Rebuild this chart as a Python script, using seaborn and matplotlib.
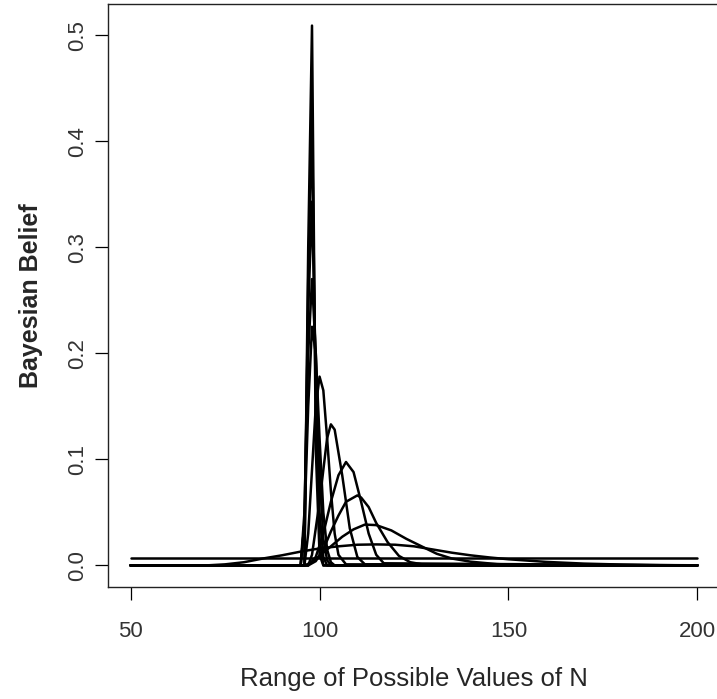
import numpy as np
import pandas as pd
import matplotlib
matplotlib.use("Agg")
import matplotlib.pyplot as plt
import seaborn as sns

# ---- data (N values, belief values) ----
# flat prior over 50..200
prior_n = [50, 200]
prior_b = [0.0066, 0.0066]

# broad posterior after the first sample
post1_n = [50, 70, 75, 80, 85, 90, 95, 100, 105, 110, 115, 120, 125, 130, 135, 140, 145, 150, 160, 170, 180, 190, 200]
post1_b = [0, 0, 0.001, 0.003, 0.0065, 0.0095, 0.013, 0.016, 0.018, 0.0195, 0.0198, 0.0195, 0.018, 0.015, 0.012,
           0.0095, 0.0075, 0.0058, 0.0033, 0.0017, 0.0008, 0.0003, 0.0001]

post2_n = [50, 96, 98, 100, 103, 106, 109, 112, 115, 119, 123, 127, 131, 135, 140, 147, 155, 200]
post2_b = [0, 0, 0.003, 0.009, 0.018, 0.027, 0.034, 0.0385, 0.038, 0.033, 0.025, 0.018, 0.011, 0.0065, 0.0035,
           0.0012, 0.0003, 0]

post3_n = [50, 97, 99, 101, 103, 105, 107, 110, 111, 113, 115, 118, 121, 124, 128, 200]
post3_b = [0, 0, 0.004, 0.015, 0.032, 0.047, 0.060, 0.066, 0.064, 0.055, 0.040, 0.022, 0.009, 0.003, 0.0005, 0]

post4_n = [50, 97, 99, 101, 103, 105, 107, 109, 111, 113, 115, 117, 200]
post4_b = [0, 0, 0.008, 0.03, 0.06, 0.085, 0.0975, 0.088, 0.06, 0.03, 0.01, 0.002, 0]

post5_n = [50, 97, 98, 100, 102, 103, 104, 106, 108, 110, 112, 200]
post5_b = [0, 0, 0.01, 0.06, 0.12, 0.133, 0.128, 0.085, 0.035, 0.008, 0.001, 0]

post6_n = [50, 96, 97, 98, 99, 100, 101, 102, 103, 104, 105, 107, 200]
post6_b = [0, 0, 0.03, 0.09, 0.15, 0.178, 0.165, 0.12, 0.07, 0.03, 0.01, 0.001, 0]

post7_n = [50, 95, 96, 97, 98, 99, 100, 101, 102, 103, 104, 200]
post7_b = [0, 0, 0.04, 0.15, 0.225, 0.2, 0.12, 0.05, 0.015, 0.003, 0, 0]

post8_n = [50, 95, 96, 97, 98, 99, 100, 101, 102, 103, 200]
post8_b = [0, 0, 0.05, 0.2, 0.27, 0.2, 0.09, 0.025, 0.005, 0, 0]

post9_n = [50, 95, 96, 97, 98, 99, 100, 101, 102, 200]
post9_b = [0, 0, 0.04, 0.24, 0.343, 0.18, 0.05, 0.008, 0, 0]

post10_n = [50, 96, 97, 98, 99, 100, 101, 200]
post10_b = [0, 0, 0.27, 0.42, 0.15, 0.025, 0, 0]

post11_n = [50, 96, 97, 98, 99, 100, 101, 200]
post11_b = [0, 0, 0.3, 0.509, 0.11, 0.01, 0, 0]

curves = [
    ("prior", prior_n, prior_b),
    ("post1", post1_n, post1_b),
    ("post2", post2_n, post2_b),
    ("post3", post3_n, post3_b),
    ("post4", post4_n, post4_b),
    ("post5", post5_n, post5_b),
    ("post6", post6_n, post6_b),
    ("post7", post7_n, post7_b),
    ("post8", post8_n, post8_b),
    ("post9", post9_n, post9_b),
    ("post10", post10_n, post10_b),
    ("post11", post11_n, post11_b),
]

df = pd.concat([pd.DataFrame({"N": n, "belief": b, "curve": name}) for name, n, b in curves],
               ignore_index=True)

sns.set_style("ticks")
plt.rcParams["font.family"] = ["Liberation Sans", "DejaVu Sans"]

fig = plt.figure(figsize=(7.17, 6.99), dpi=100)
ax = fig.add_axes([108 / 717, 112 / 699, 612 / 717, 583 / 699])

sns.lineplot(data=df, x="N", y="belief", units="curve", estimator=None, sort=False,
             color="black", linewidth=1.8, legend=False, ax=ax)

# R-style 4% padding around the data
ax.margins(x=0.04, y=0.04)

ax.set_xticks([50, 100, 150, 200])
ax.set_yticks([0.0, 0.1, 0.2, 0.3, 0.4, 0.5])
ax.set_yticklabels(["0.0", "0.1", "0.2", "0.3", "0.4", "0.5"])
ax.tick_params(axis="both", direction="out", length=9.5, width=0.9, colors="black", labelsize=16)
ax.tick_params(axis="x", pad=15)
ax.tick_params(axis="y", pad=5)
for lab in ax.get_yticklabels():
    lab.set_rotation(90)
    lab.set_va("center")
    lab.set_color("#333333")
for lab in ax.get_xticklabels():
    lab.set_color("#333333")

for side in ["left", "right", "top", "bottom"]:
    ax.spines[side].set_visible(True)
    ax.spines[side].set_linewidth(1.0)
    ax.spines[side].set_color("#222222")

ax.set_xlabel("Range of Possible Values of N", fontsize=18.5)
ax.set_ylabel("Bayesian Belief", fontsize=18, fontweight="bold")
ax.xaxis.set_label_coords(0.5, -0.137)
ax.yaxis.set_label_coords(-0.106, 0.5)

fig.savefig("out.png", dpi=100)
